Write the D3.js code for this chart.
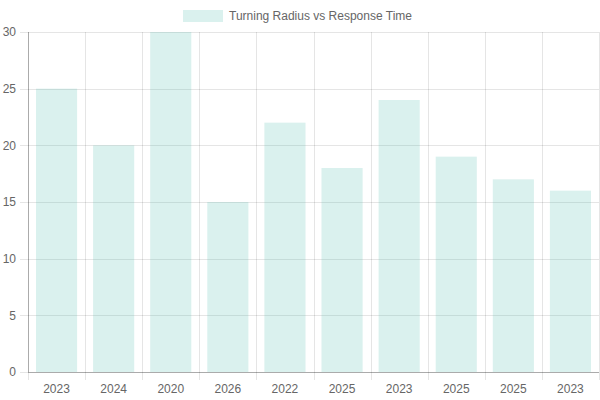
<!doctype html>
<html>
  <head>
    <meta charset="utf-8">
    <title>Turning Radius vs Response Time</title>
    <script type="text/javascript" src="https://d3js.org/d3.v7.min.js"></script>
    <style>
      body { margin: 0; background: #fff; }
      text { font-family: "Liberation Sans", Arial, Helvetica, sans-serif; }
    </style>
  </head>
  <body>
    <script>
      const categories = ['2023', '2024', '2020', '2026', '2022', '2025', '2023', '2025', '2025', '2023'];
      const values = [25, 20, 30, 15, 22, 18, 24, 19, 17, 16];
      const yTicks = [0, 5, 10, 15, 20, 25, 30];
      const seriesName = 'Turning Radius vs Response Time';

      const svgWidth = 600;
      const svgHeight = 400;
      const padding = { top: 32, right: 1, bottom: 28, left: 28 };

      const barFill = 'rgba(70, 185, 170, 0.2)';
      const gridColor = 'rgba(0, 0, 0, 0.1)';
      const textColor = '#666';

      const svg = d3.select('body').append('svg')
          .attr('width', svgWidth)
          .attr('height', svgHeight);

      const plotW = svgWidth - padding.left - padding.right;
      const plotH = svgHeight - padding.top - padding.bottom;

      // 类别轴（用索引，因为年份有重复）
      const xScale = d3.scaleBand()
          .domain(d3.range(categories.length))
          .range([0, plotW]);
      const yScale = d3.scaleLinear()
          .domain([0, 30])
          .range([plotH, 0]);

      const g = svg.append('g')
          .attr('transform', `translate(${padding.left}, ${padding.top})`);

      // 网格线
      const bw = xScale.bandwidth();
      const vLines = d3.range(categories.length + 1);
      g.append('g').selectAll('line')
        .data(vLines)
        .enter().append('line')
          .attr('x1', i => Math.round(i * bw) + 0.5)
          .attr('x2', i => Math.round(i * bw) + 0.5)
          .attr('y1', 0)
          .attr('y2', plotH + 8)
          .attr('stroke', gridColor);
      g.append('g').selectAll('line')
        .data(yTicks)
        .enter().append('line')
          .attr('x1', -8)
          .attr('x2', plotW)
          .attr('y1', d => Math.round(yScale(d)) + 0.5)
          .attr('y2', d => Math.round(yScale(d)) + 0.5)
          .attr('stroke', gridColor);

      // 坐标轴线
      g.append('line')
          .attr('x1', 0.5).attr('x2', 0.5)
          .attr('y1', 0).attr('y2', plotH)
          .attr('stroke', 'rgba(0,0,0,0.25)');
      g.append('line')
          .attr('x1', 0).attr('x2', plotW)
          .attr('y1', plotH + 0.5).attr('y2', plotH + 0.5)
          .attr('stroke', 'rgba(0,0,0,0.25)');

      // y轴标签
      g.append('g').selectAll('text')
        .data(yTicks)
        .enter().append('text')
          .attr('x', -12)
          .attr('y', d => yScale(d))
          .attr('dy', '0.35em')
          .attr('text-anchor', 'end')
          .attr('font-size', 12)
          .attr('fill', textColor)
          .text(d => d);

      // x轴标签
      g.append('g').selectAll('text')
        .data(categories)
        .enter().append('text')
          .attr('x', (d, i) => xScale(i) + bw / 2)
          .attr('y', plotH + 21)
          .attr('text-anchor', 'middle')
          .attr('font-size', 12)
          .attr('fill', textColor)
          .text(d => d);

      // 柱子
      const barW = bw * 0.72;
      g.append('g').selectAll('rect')
        .data(values)
        .enter().append('rect')
          .attr('x', (d, i) => xScale(i) + (bw - barW) / 2)
          .attr('y', d => yScale(d))
          .attr('width', barW)
          .attr('height', d => plotH - yScale(d))
          .attr('fill', barFill);

      // 图例
      const legend = svg.append('g');
      const legendText = legend.append('text')
          .attr('y', 16)
          .attr('dy', '0.35em')
          .attr('font-size', 12)
          .attr('fill', textColor)
          .text(seriesName);
      legendText.attr('x', 229);
      legend.append('rect')
          .attr('x', 183)
          .attr('y', 10)
          .attr('width', 40)
          .attr('height', 12)
          .attr('fill', barFill);
    </script>
  </body>
</html>
